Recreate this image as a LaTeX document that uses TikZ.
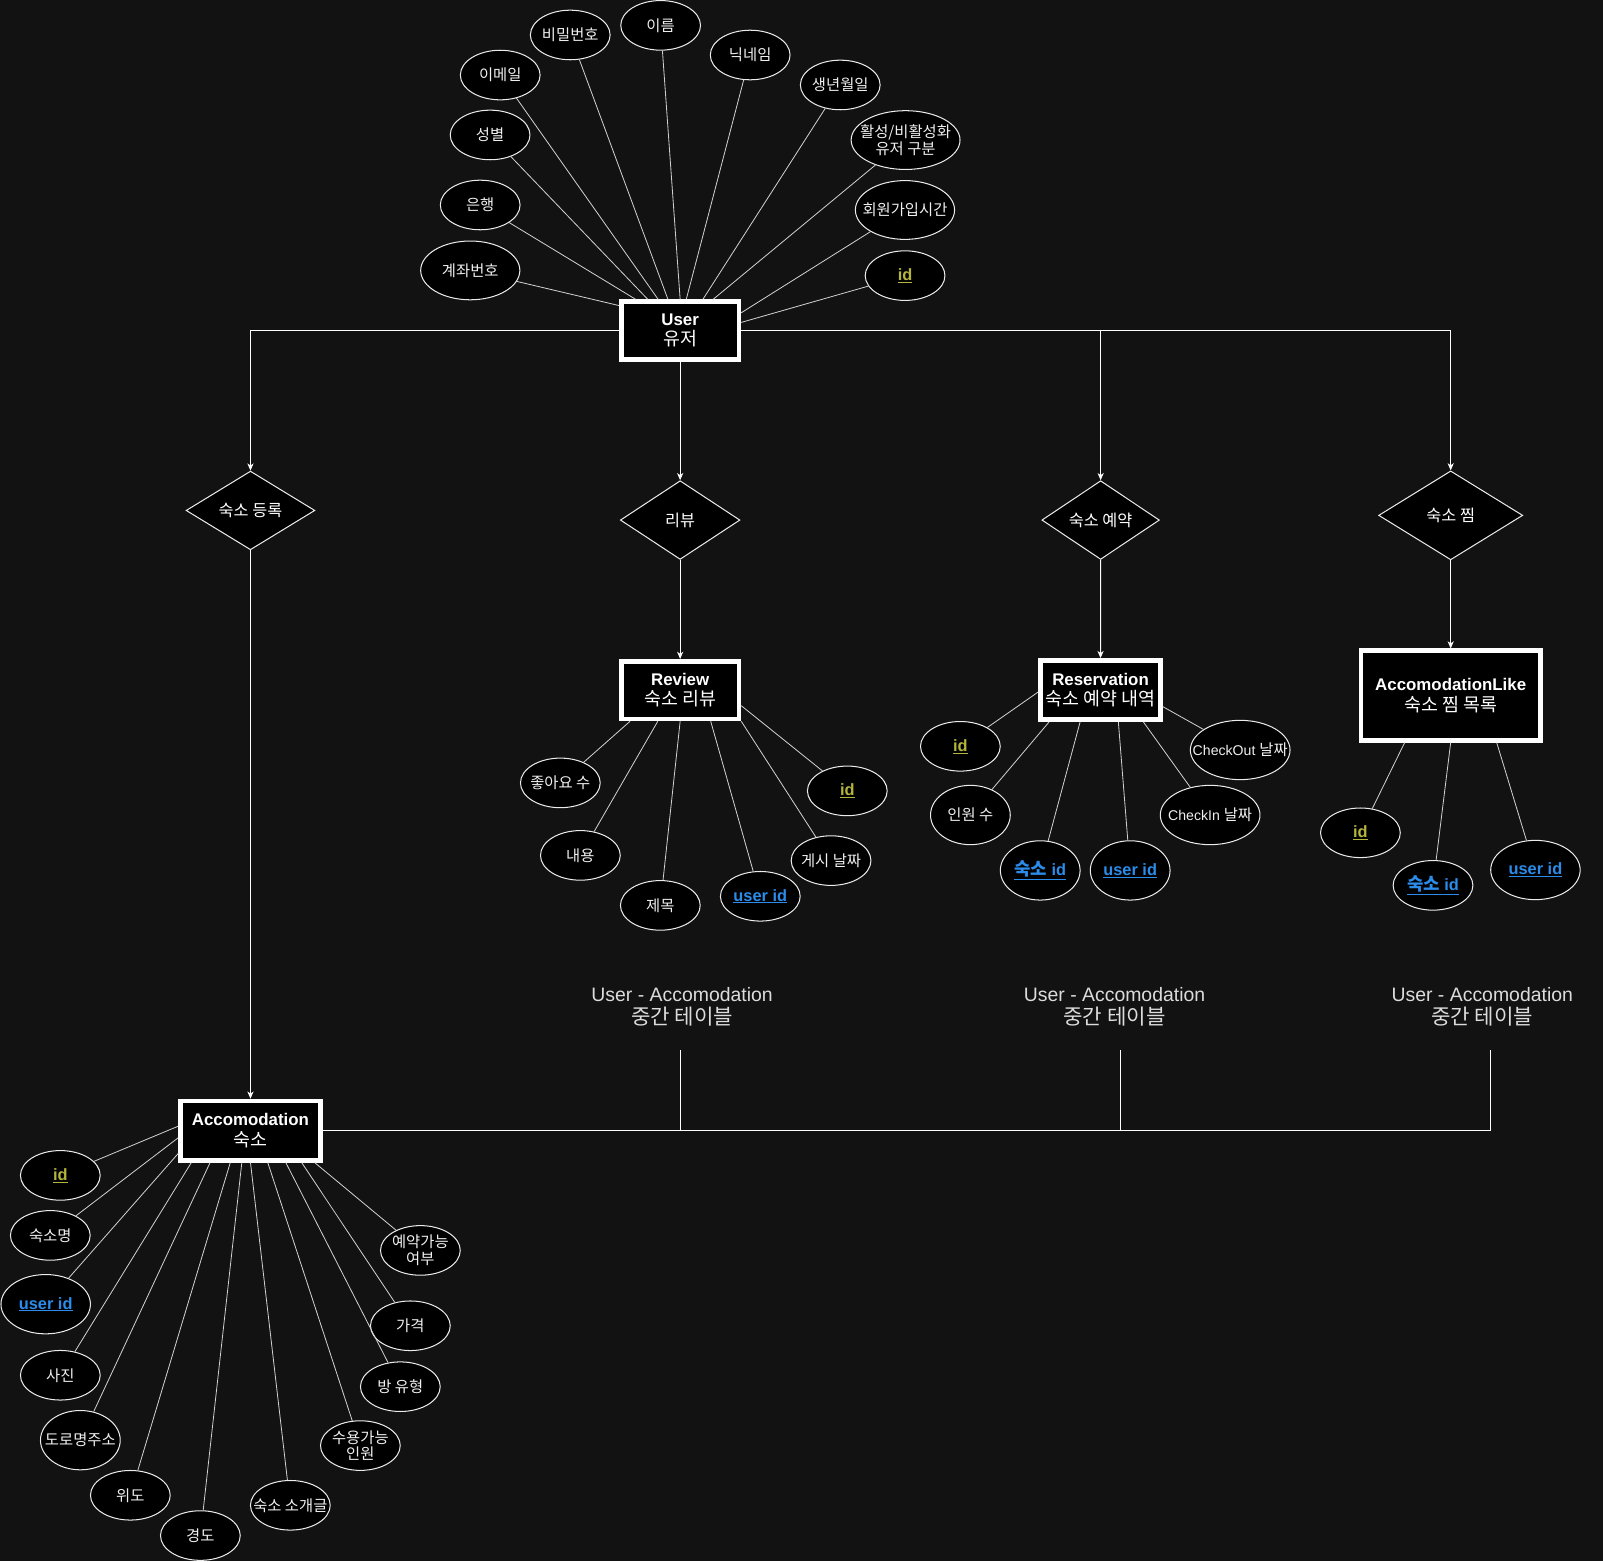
\documentclass[tikz,border=0pt]{standalone}
\usepackage{fontspec}
\setmainfont{Liberation Sans}
\newfontfamily\krfont[Scale=1.09]{Noto Sans CJK KR}
\usetikzlibrary{shapes.geometric,arrows.meta,calc}
\definecolor{bg}{HTML}{121212}
\definecolor{pkyellow}{HTML}{B5B53C}
\definecolor{fkblue}{HTML}{2B8CEB}
\definecolor{edgegray}{HTML}{D0D0D0}
\definecolor{labelgray}{HTML}{DCDCDC}
\newcommand{\fsz}[2]{\fontsize{#1}{#2}\selectfont}
\newcommand{\K}[1]{{\krfont #1}}
\newcommand{\Z}[1]{\makebox[0pt]{#1}}
\begin{document}
\begin{tikzpicture}[x=1pt,y=-1pt,
  entity/.style={rectangle, draw=white, line width=4.5pt, fill=black, text=white, align=center, inner sep=0pt, font=\fsz{16.5}{20}},
  attr/.style={ellipse, draw=white!92!black, line width=1pt, fill=black, text=white!94!black, align=center, inner sep=0pt, minimum width=78pt, minimum height=48.5pt, font=\fsz{13.8}{16}},
  pk/.style={attr, text=pkyellow, font=\bfseries\fsz{16}{18}},
  fk/.style={attr, text=fkblue, font=\bfseries\fsz{16}{18}},
  rel/.style={diamond, draw=white!92!black, line width=1pt, fill=black, text=white, inner sep=0pt, aspect=1.5, font=\fsz{14.6}{16}},
  link/.style={draw=edgegray, line width=0.8pt},
  flow/.style={draw=white, line width=0.9pt},
  arr/.style={flow, -{Stealth[length=7pt,width=6pt,inset=2pt]}},
  midlabel/.style={text=labelgray, align=center, font=\fsz{19}{22.5}, inner sep=0pt}
]
\fill[bg] (0,0) rectangle (1568,1527);
\useasboundingbox (0,0) rectangle (1568,1527);

% ---------------- User ----------------
\node[entity, minimum width=115pt, minimum height=56.5pt] (user) at (665.3,323.3) {\textbf{User}\\\K{유저}};

\node[attr] (uname) at (646.2,24.8) {\Z{\K{이름}}};
\node[attr] (upw) at (557.8,34.2) {\Z{\K{비밀번호}}};
\node[attr] (unick) at (733.8,53.8) {\Z{\K{닉네임}}};
\node[attr] (umail) at (489.3,73.4) {\Z{\K{이메일}}};
\node[attr] (ubirth) at (821.9,83.1) {\Z{\K{생년월일}}};
\node[attr] (usex) at (479.4,132) {\Z{\K{성별}}};
\node[attr, minimum width=106.5pt, minimum height=57.5pt] (uact) at (885.8,137) {\Z{\K{활성/비활성화}}\\\Z{\K{유저 구분}}};
\node[attr] (ubank) at (469.7,200.5) {\Z{\K{은행}}};
\node[attr, minimum width=97pt, minimum height=57.5pt] (ujoin) at (885.2,205.4) {\Z{\K{회원가입시간}}};
\node[attr, minimum width=97pt, minimum height=57.5pt] (uacct) at (460,264.5) {\Z{\K{계좌번호}}};
\node[pk] (uid) at (885.3,269.6) {\Z{\underline{id}}};

\draw[link] (uacct) -- ($(user.north west)!0.10!(user.south west)$);
\draw[link] (ubank) -- ($(user.north west)!0.136!(user.north east)$);
\draw[link] (usex) -- ($(user.north west)!0.235!(user.north east)$);
\draw[link] (umail) -- ($(user.north west)!0.32!(user.north east)$);
\draw[link] (upw) -- ($(user.north west)!0.40!(user.north east)$);
\draw[link] (uname) -- ($(user.north west)!0.50!(user.north east)$);
\draw[link] (unick) -- ($(user.north west)!0.55!(user.north east)$);
\draw[link] (ubirth) -- ($(user.north west)!0.686!(user.north east)$);
\draw[link] (uact) -- ($(user.north west)!0.77!(user.north east)$);
\draw[link] (ujoin) -- ($(user.north east)!0.215!(user.south east)$);
\draw[link] (uid) -- ($(user.north east)!0.37!(user.south east)$);

% ---------------- relationships ----------------
\node[rel, minimum width=126pt, minimum height=77pt] (rreg) at (245,499.3) {\K{숙소 등록}};
\node[rel, minimum width=117pt, minimum height=77pt] (rrev) at (665.3,508.7) {\K{리뷰}};
\node[rel, minimum width=115pt, minimum height=77pt] (rres) at (1076.6,508.7) {\K{숙소 예약}};
\node[rel, minimum width=141pt, minimum height=87pt] (rlike) at (1419,504.1) {\K{숙소 찜}};

\draw[arr] (user.west) -| (rreg.north);
\draw[arr] (user.south) -- (rrev.north);
\draw[arr] (user.east) -| (rres.north);
\draw[arr] (user.east) -| (rlike.north);

% ---------------- Review ----------------
\node[entity, minimum width=115pt, minimum height=56.5pt] (review) at (665.3,675) {\textbf{Review}\\\K{숙소 리뷰}};
\node[attr] (rvlike) at (548.1,765.8) {\Z{\K{좋아요 수}}};
\node[attr] (rvcont) at (567.7,836.7) {\Z{\K{내용}}};
\node[attr] (rvtitle) at (645.9,885.6) {\Z{\K{제목}}};
\node[fk] (rvuid) at (743.7,876.7) {\Z{\underline{user id}}};
\node[attr] (rvdate) at (812.9,841.8) {\Z{\K{게시 날짜}}};
\node[pk] (rvid) at (828.8,773.6) {\Z{\underline{id}}};

\draw[link] (rvlike) -- ($(review.south west)!0.09!(review.south east)$);
\draw[link] (rvcont) -- ($(review.south west)!0.317!(review.south east)$);
\draw[link] (rvtitle) -- ($(review.south west)!0.5!(review.south east)$);
\draw[link] (rvuid) -- ($(review.south west)!0.75!(review.south east)$);
\draw[link] (rvdate) -- (review.south east);
\draw[link] (rvid) -- ($(review.north east)!0.75!(review.south east)$);

% ---------------- Reservation ----------------
\node[entity, minimum width=117.5pt, minimum height=58pt] (resv) at (1076.5,675) {\textbf{Reservation}\\\Z{\K{숙소 예약 내역}}};
\node[pk] (sid) at (939.4,730) {\Z{\underline{id}}};
\node[attr, minimum height=58pt] (scount) at (949.2,797.2) {\Z{\K{인원 수}}};
\node[fk, minimum height=58pt] (sacc) at (1017.5,851.4) {\Z{\underline{\K{숙소} id}}};
\node[fk, minimum height=58pt] (suid) at (1105.5,851.4) {\Z{\underline{user id}}};
\node[attr, minimum width=97.5pt, minimum height=58pt] (sin) at (1183.7,797.2) {\Z{CheckIn \K{날짜}}};
\node[attr, minimum width=97.5pt, minimum height=58pt] (sout) at (1213.1,733.6) {\Z{CheckOut \K{날짜}}};

\draw[link] (sid) -- ($(resv.north west)!0.53!(resv.south west)$);
\draw[link] (scount) -- ($(resv.south west)!0.087!(resv.south east)$);
\draw[link] (sacc) -- ($(resv.south west)!0.336!(resv.south east)$);
\draw[link] (suid) -- ($(resv.south west)!0.643!(resv.south east)$);
\draw[link] (sin) -- ($(resv.south west)!0.844!(resv.south east)$);
\draw[link] (sout) -- ($(resv.north east)!0.76!(resv.south east)$);

% ---------------- AccomodationLike ----------------
\node[entity, minimum width=175.5pt, minimum height=87.5pt] (alike) at (1419,680.3) {\textbf{AccomodationLike}\\\K{숙소 찜 목록}};
\node[pk] (lid) at (1330.7,814.6) {\Z{\underline{id}}};
\node[fk] (lacc) at (1401.7,866) {\Z{\underline{\K{숙소} id}}};
\node[fk, minimum width=87.5pt, minimum height=58pt] (luid) at (1501.9,851) {\Z{\underline{user id}}};

\draw[link] (lid) -- ($(alike.south west)!0.25!(alike.south east)$);
\draw[link] (lacc) -- ($(alike.south west)!0.5!(alike.south east)$);
\draw[link] (luid) -- ($(alike.south west)!0.75!(alike.south east)$);

% ---------------- flows down ----------------
\node[entity, minimum width=136.5pt, minimum height=58pt] (acc) at (245,1105.9) {\textbf{Accomodation}\\\K{숙소}};

\draw[arr] (rreg.south) -- (acc.north);
\draw[arr] (rrev.south) -- (review.north);
\draw[arr] (rres.south) -- (resv.north);
\draw[arr] (rlike.south) -- (alike.north);

% ---------------- Accomodation attributes ----------------
\node[pk] (aid) at (59,1149.7) {\Z{\underline{id}}};
\node[attr] (aname) at (49.2,1208.4) {\Z{\K{숙소명}}};
\node[fk, minimum width=87.5pt, minimum height=58pt] (auid) at (44.7,1275.7) {\Z{\underline{user id}}};
\node[attr] (aphoto) at (59,1345.2) {\Z{\K{사진}}};
\node[attr, minimum height=58pt] (aaddr) at (78.6,1408.7) {\Z{\K{도로명주소}}};
\node[attr] (alat) at (127.5,1462.6) {\Z{\K{위도}}};
\node[attr] (alng) at (196,1502) {\Z{\K{경도}}};
\node[attr] (aintro) at (284,1472.4) {\Z{\K{숙소 소개글}}};
\node[attr] (acap) at (352.5,1414) {\Z{\K{수용가능}}\\\Z{\K{인원}}};
\node[attr] (aroom) at (391.6,1356.4) {\Z{\K{방 유형}}};
\node[attr] (aprice) at (401.4,1296.8) {\Z{\K{가격}}};
\node[attr] (aavail) at (411.2,1223.1) {\Z{\K{예약가능}}\\\Z{\K{여부}}};

\draw[link] (aid) -- ($(acc.north west)!0.43!(acc.south west)$);
\draw[link] (aname) -- ($(acc.north west)!0.61!(acc.south west)$);
\draw[link] (auid) -- ($(acc.north west)!0.855!(acc.south west)$);
\draw[link] (aphoto) -- ($(acc.south west)!0.09!(acc.south east)$);
\draw[link] (aaddr) -- ($(acc.south west)!0.22!(acc.south east)$);
\draw[link] (alat) -- ($(acc.south west)!0.36!(acc.south east)$);
\draw[link] (alng) -- ($(acc.south west)!0.44!(acc.south east)$);
\draw[link] (aintro) -- ($(acc.south west)!0.50!(acc.south east)$);
\draw[link] (acap) -- ($(acc.south west)!0.62!(acc.south east)$);
\draw[link] (aroom) -- ($(acc.south west)!0.745!(acc.south east)$);
\draw[link] (aprice) -- ($(acc.south west)!0.855!(acc.south east)$);
\draw[link] (aavail) -- ($(acc.south west)!0.945!(acc.south east)$);

% ---------------- join tables ----------------
\node[midlabel] (t1) at (667.2,985) {User - Accomodation\\\K{중간 테이블}};
\node[midlabel] (t2) at (1090.2,985) {User - Accomodation\\\K{중간 테이블}};
\node[midlabel] (t3) at (1449.9,985) {User - Accomodation\\\K{중간 테이블}};
\coordinate (c1) at (665.6,1027);
\coordinate (c2) at (1095.8,1027);
\coordinate (c3) at (1457.6,1027);
\draw[flow] (acc.east) -| (c1);
\draw[flow] (acc.east) -| (c2);
\draw[flow] (acc.east) -| (c3);
\end{tikzpicture}
\end{document}
